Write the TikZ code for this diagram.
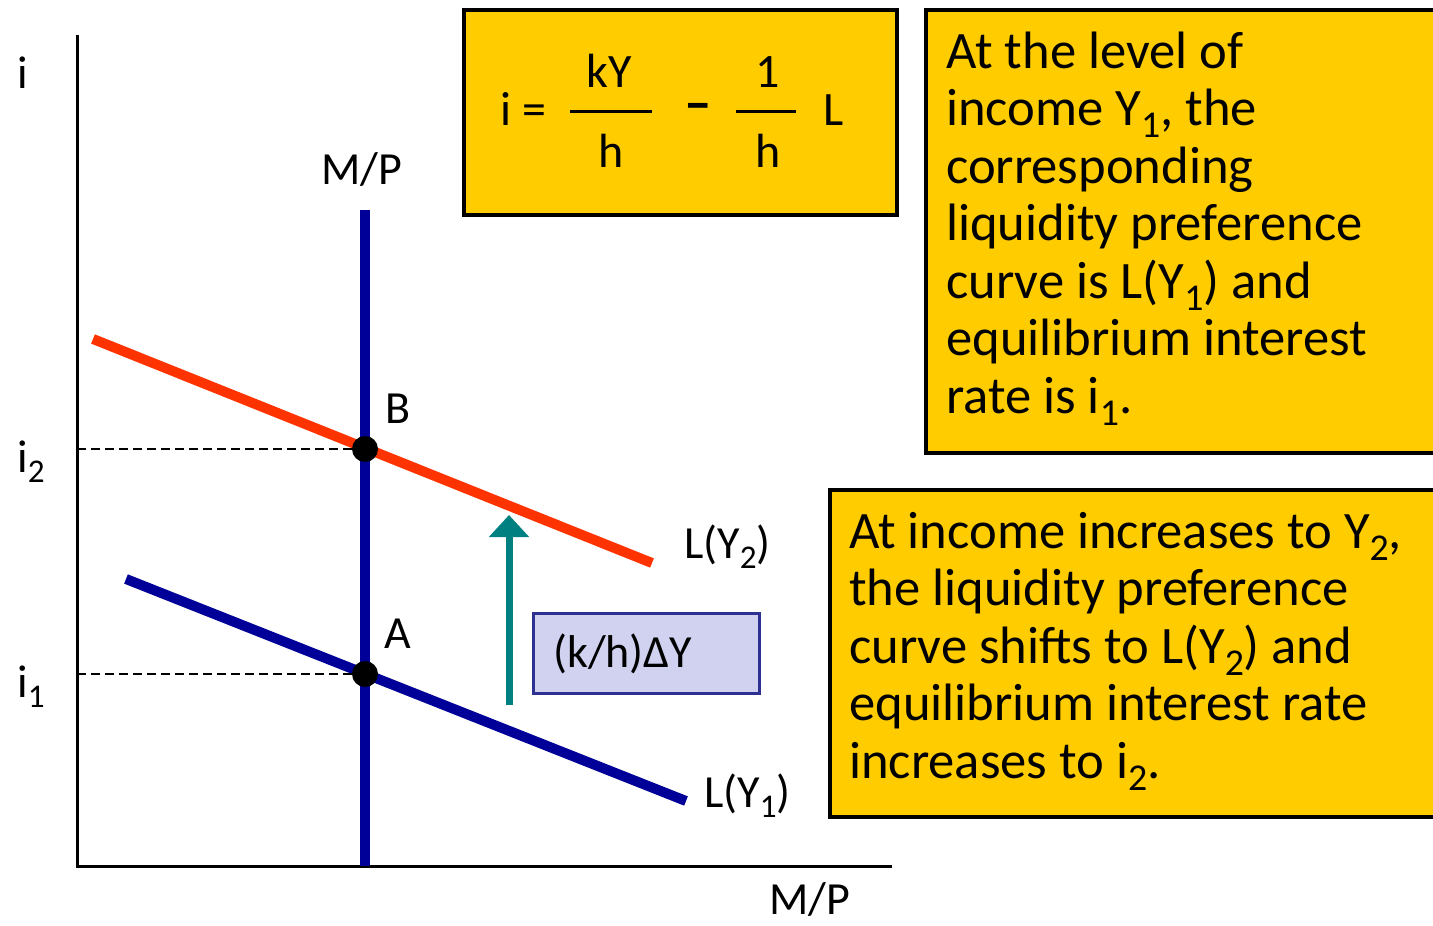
\documentclass[tikz,border=0pt]{standalone}
\usepackage{fontspec}
\usepackage{graphicx}
\setmainfont{Carlito}
\usetikzlibrary{arrows.meta}
\definecolor{gold}{HTML}{FFCC00}
\definecolor{redl}{HTML}{FF3300}
\definecolor{bluel}{HTML}{000099}
\definecolor{tealc}{HTML}{008080}
\definecolor{lav}{HTML}{D0D2F0}
\definecolor{navy}{HTML}{2E3192}
\makeatletter
\newcommand\lowsub[1]{{\dimen0=\f@size pt\relax\dimen0=0.72\dimen0\relax\fontsize{\strip@pt\dimen0}{0}\selectfont\raisebox{-0.32em}{#1}}}
\makeatother
\begin{document}
\begin{tikzpicture}[x=1pt,y=-1pt,
  axisline/.style={line width=3pt,black},
  curve/.style={line width=10pt},
  guide/.style={line width=2pt,black,dash pattern=on 9pt off 5pt},
  dot/.style={circle,fill=black,minimum size=26pt,inner sep=0pt},
  lbl/.style={inner sep=0pt,font=\fontsize{46}{50}\selectfont},
  ybox/.style={draw=black,line width=4pt,fill=gold,inner sep=0pt},
  para/.style={inner sep=0pt,align=left,font=\fontsize{52.6}{57.5}\selectfont},
  frm/.style={inner sep=0pt,font=\fontsize{48}{52}\selectfont},
  bar/.style={line width=3pt,black}]
\clip (0,0) rectangle (1433,926);
\fill[white] (0,0) rectangle (1433,926);

% axes
\coordinate (o) at (77,866);
\coordinate (ytop) at (77,35);
\coordinate (xend) at (892,866);
\draw[axisline] (ytop) -- (o) -- (xend);

% money supply line
\coordinate (mstop) at (365,210);
\coordinate (msbot) at (365,866);
\draw[curve,bluel] (mstop) -- (msbot);

% L(Y2) and L(Y1)
\coordinate (r1) at (93,339);
\coordinate (r2) at (652,563);
\draw[curve,redl] (r1) -- (r2);
\coordinate (b1) at (126,579);
\coordinate (b2) at (686,801);
\draw[curve,bluel] (b1) -- (b2);

% equilibrium points
\node[dot] (B) at (365,449) {};
\node[dot] (A) at (365,674) {};
\coordinate (i2ax) at (77,449);
\coordinate (i1ax) at (77,674);
\draw[guide] (i2ax) -- (B);
\draw[guide] (i1ax) -- (A);

% labels
\node[lbl,anchor=base west] (ilab) at (17,88) {i};
\node[lbl,anchor=base] (mptop) at (362,184) {M/P};
\node[lbl,anchor=base] (mpbot) at (810,914) {M/P};
\node[lbl,anchor=base west] (i2lab) at (17,472) {i\lowsub{2}};
\node[lbl,anchor=base west] (i1lab) at (17,697) {i\lowsub{1}};
\node[lbl,anchor=base west] (Blab) at (385,423) {B};
\node[lbl,anchor=base west] (Alab) at (384,648) {A};
\node[lbl,anchor=base west] (ly2) at (684,558) {L(Y\lowsub{2})};
\node[lbl,anchor=base west] (ly1) at (704,807) {L(Y\lowsub{1})};

% shift arrow
\coordinate (arrbot) at (509,705);
\coordinate (arrtop) at (509,515);
\draw[tealc,line width=7pt,-{Triangle[width=39pt,length=22pt]}] (arrbot) -- (arrtop);

% shift box
\node[draw=navy,line width=3pt,fill=lav,anchor=north west,minimum width=226pt,minimum height=80pt,inner sep=0pt] (kbox) at (532,612) {};
\node[lbl,anchor=base west] (ktext) at (553,667) {(k/h)ΔY};

% formula box
\node[ybox,anchor=north west,minimum width=433pt,minimum height=205pt] (fbox) at (462,8) {};
\node[frm,anchor=base west] (fi) at (500,125) {i =};
\node[frm,anchor=base] (fkY) at (609,87) {kY};
\node[frm,anchor=base] (fh1) at (611,167) {h};
\draw[bar] (570,111) -- (652,111);
\node[frm,anchor=base] (fminus) at (698,121) {\scalebox{1.15}{\bfseries –}};
\node[frm,anchor=base] (fone) at (768,87) {1};
\node[frm,anchor=base] (fh2) at (768,167) {h};
\draw[bar] (736,111) -- (796,111);
\node[frm,anchor=base west] (fL) at (823,125) {L};

% text box 1
\node[ybox,anchor=north west,minimum width=520pt,minimum height=443pt] (box1) at (924,8) {};
\node[para,anchor=base west] (t1) at (946,413) {At the level of\\income Y\lowsub{1}, the\\corresponding\\liquidity preference\\curve is L(Y\lowsub{1}) and\\equilibrium interest\\rate is i\lowsub{1}.};

% text box 2
\node[ybox,anchor=north west,minimum width=615pt,minimum height=327pt] (box2) at (828,488) {};
\node[para,anchor=base west] (t2) at (849,778) {At income increases to Y\lowsub{2},\\the liquidity preference\\curve shifts to L(Y\lowsub{2}) and\\equilibrium interest rate\\increases to i\lowsub{2}.};
\end{tikzpicture}
\end{document}
